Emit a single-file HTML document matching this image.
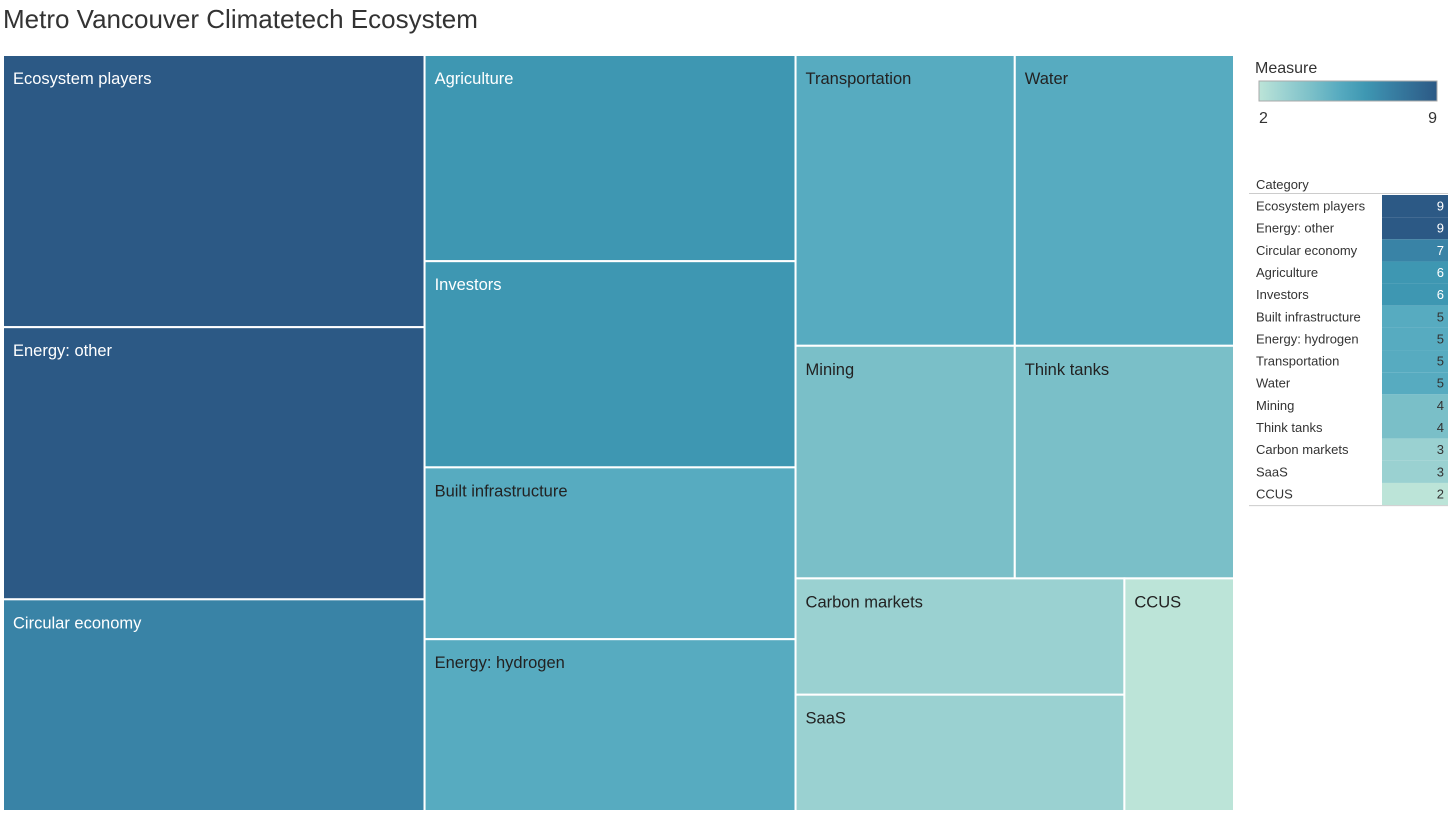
<!DOCTYPE html>
<html><head><meta charset="utf-8"><style>
body{margin:0;background:#fff;font-family:"Liberation Sans","DejaVu Sans",sans-serif}
svg{display:block}
</style></head><body>
<svg id="chart" width="1456" height="825">
<text x="3" y="28" font-size="26" fill="#333" font-weight="300">Metro Vancouver Climatetech Ecosystem</text>
<defs><linearGradient id="grad" x1="0" x2="1"><stop offset="0" stop-color="#bce4d8"/><stop offset="0.15" stop-color="#9ad1d1"/><stop offset="0.3" stop-color="#7abfc8"/><stop offset="0.45" stop-color="#57abc0"/><stop offset="0.6" stop-color="#3e97b2"/><stop offset="0.72" stop-color="#3983a6"/><stop offset="1" stop-color="#2c5985"/></linearGradient></defs>
<text x="1255" y="73" font-size="16" fill="#333">Measure</text>
<rect x="1259" y="81" width="178" height="20" fill="url(#grad)" stroke="#aaa"/>
<text x="1259" y="123" font-size="16" fill="#333">2</text>
<text x="1437" y="123" font-size="16" fill="#333" text-anchor="end">9</text>
<text x="1256" y="189" font-size="13" fill="#333">Category</text>
<line x1="1249" y1="193.5" x2="1448" y2="193.5" stroke="#ccc"/>
<g id="marks"></g><g id="table"></g>
</svg>
<script>
const categories=["Ecosystem players","Energy: other","Circular economy","Agriculture","Investors","Built infrastructure","Energy: hydrogen","Transportation","Water","Mining","Think tanks","Carbon markets","SaaS","CCUS"];
const values=[9,9,7,6,6,5,5,5,5,4,4,3,3,2];
const NS="http://www.w3.org/2000/svg";
const stops=[[2,[188,228,216]],[3,[154,209,209]],[4,[122,191,200]],[5,[87,171,192]],[6,[62,151,178]],[7,[57,131,166]],[9,[44,89,133]]];
function color(v){for(let i=0;i<stops.length-1;i++){const a=stops[i],b=stops[i+1];if(v<=b[0]){const t=(v-a[0])/(b[0]-a[0]);return "rgb("+a[1].map((c,k)=>Math.round(c+(b[1][k]-c)*t)).join(",")+")";}}return "rgb(44,89,133)";}
function el(t,a,p){const e=document.createElementNS(NS,t);for(const k in a)e.setAttribute(k,a[k]);p.appendChild(e);return e;}
const sum=a=>a.reduce((s,i)=>s+values[i],0);
// layout tree: [dir, children] ; 'h' splits horizontally (columns), 'v' vertically (rows)
const tree=['h',[['v',[0,1,2]],['v',[3,4,5,6]],['v',[['h',[7,8]],['h',[9,10]],['h',[['v',[11,12]],13]]]]]];
function idx(n){return typeof n==='number'?[n]:n[1].flatMap(idx);}
const rects=[];
function lay(n,x,y,w,h){if(typeof n==='number'){rects.push([n,x,y,w,h]);return;}
 const tot=sum(idx(n));let off=0;for(const c of n[1]){const f=sum(idx(c))/tot;
 if(n[0]==='h'){lay(c,x+off,y,w*f,h);off+=w*f;}else{lay(c,x,y+off,w,h*f);off+=h*f;}}}
lay(tree,3,55,1231,756);
const g=document.getElementById('marks');
for(const [i,x,y,w,h] of rects){
 const r=el('rect',{x:x,y:y,width:w,height:h,fill:color(values[i]),stroke:'#fff','stroke-width':2},g);
 
 
 const t=el('text',{x:x+10,y:y+29,'font-size':16.5,fill:values[i]>=6?'#fff':'#222'},g);
 t.textContent=categories[i];
 
 
}
const tb=document.getElementById('table');
categories.forEach((c,i)=>{const y=195+i*22.15;
 const r=el('rect',{x:1382,y:y,width:66,height:22.15,fill:color(values[i])},tb);
 
 
 const t=el('text',{x:1256,y:y+15.5,'font-size':13,fill:'#333'},tb);t.textContent=c;
 
 
 const v=el('text',{x:1444,y:y+15.5,'font-size':13,fill:values[i]>=6?'#fff':'#333','text-anchor':'end'},tb);v.textContent=values[i];
 
 
});
const l=el('line',{x1:1249,y1:195+14*22.15+0.5,x2:1448,y2:195+14*22.15+0.5,stroke:'#ccc'},tb);


</script>
</body></html>
